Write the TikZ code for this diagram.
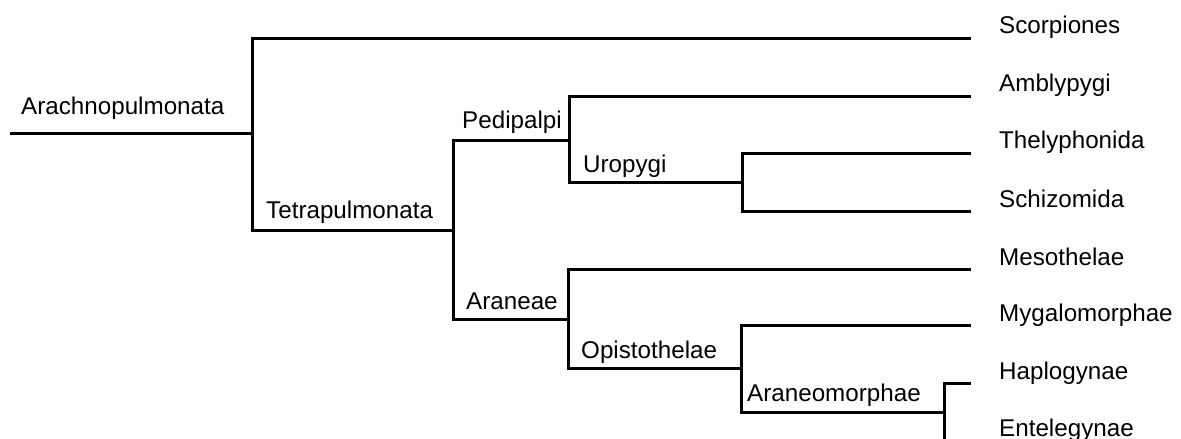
\documentclass[tikz,border=0pt]{standalone}
\usepackage{fontspec}
\setmainfont{Liberation Sans}
\begin{document}
\begin{tikzpicture}[x=1pt,y=-1pt,
  branch/.style={line width=3pt, line cap=butt, line join=miter},
  lbl/.style={anchor=base west, inner sep=0pt, font=\fontsize{24.2}{28}\selectfont}]
\clip (0,0) rectangle (1181,439);
% internal nodes
\coordinate (root) at (10,133);
\coordinate (arach) at (252,133);
\coordinate (tetra) at (453,230);
\coordinate (pedi) at (569,140);
\coordinate (uro) at (742,182);
\coordinate (aran) at (568,319);
\coordinate (opis) at (741,368);
\coordinate (araneo) at (944,412);
% leaf ends
\coordinate (lsc) at (971,38);
\coordinate (lam) at (971,96);
\coordinate (lth) at (971,153);
\coordinate (lsch) at (971,211);
\coordinate (lme) at (971,269);
\coordinate (lmy) at (971,325);
\coordinate (lha) at (971,383);
\coordinate (len) at (971,441);
% branches
\draw[branch] (root) -- (arach);
\draw[branch] (lsc) -| (arach) |- (tetra);
\draw[branch] (pedi) -| (tetra) |- (aran);
\draw[branch] (lam) -| (pedi) |- (uro);
\draw[branch] (lth) -| (uro) |- (lsch);
\draw[branch] (lme) -| (aran) |- (opis);
\draw[branch] (lmy) -| (opis) |- (araneo);
\draw[branch] (lha) -| (araneo) |- (len);
% clade labels
\node[lbl] (tArach) at (21,114) {Arachnopulmonata};
\node[lbl] (tTetra) at (266,218) {Tetrapulmonata};
\node[lbl] (tPedi) at (462,128) {Pedipalpi};
\node[lbl] (tUro) at (583,172) {Uropygi};
\node[lbl] (tAran) at (466,309) {Araneae};
\node[lbl] (tOpis) at (581,358) {Opistothelae};
\node[lbl] (tAraneo) at (747,401) {Araneomorphae};
% leaf labels
\node[lbl] (tSc) at (999,33) {Scorpiones};
\node[lbl] (tAm) at (999,91) {Amblypygi};
\node[lbl] (tTh) at (999,148) {Thelyphonida};
\node[lbl] (tSch) at (999,207) {Schizomida};
\node[lbl] (tMe) at (999,265) {Mesothelae};
\node[lbl] (tMy) at (999,321) {Mygalomorphae};
\node[lbl] (tHa) at (999,379) {Haplogynae};
\node[lbl] (tEn) at (999,436) {Entelegynae};
\end{tikzpicture}
\end{document}
